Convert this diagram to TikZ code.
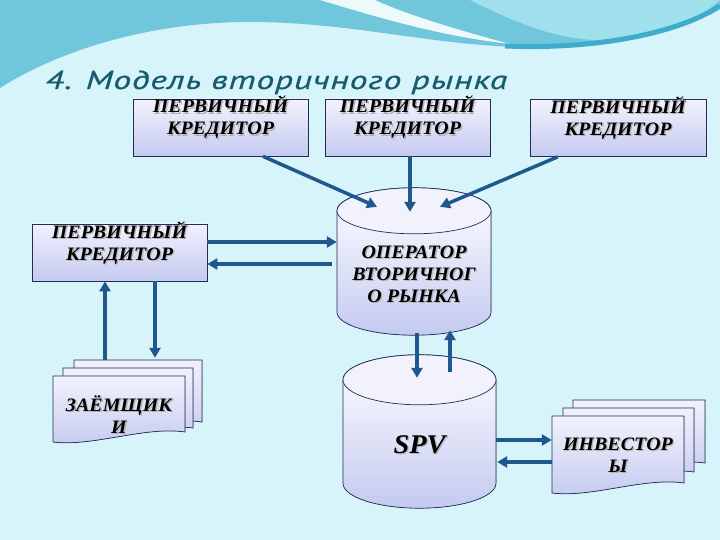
\documentclass[tikz,border=0pt]{standalone}
\usepackage{fontspec}
\setmainfont{Liberation Serif}
\newfontfamily\boxfam[FakeStretch=1.05]{Liberation Serif}
\newfontfamily\titlefont[FakeStretch=1.37,LetterSpace=3,FakeBold=0.6]{PT Sans}
\usetikzlibrary{arrows.meta,backgrounds}

\definecolor{bgc}{RGB}{214,244,249}
\definecolor{wavec}{RGB}{112,198,218}
\definecolor{wavelt}{RGB}{160,224,236}
\definecolor{swoosh}{RGB}{236,250,252}
\definecolor{strokec}{RGB}{62,172,204}
\definecolor{titlec}{RGB}{22,92,110}
\definecolor{arrc}{RGB}{30,88,140}
\definecolor{edgec}{RGB}{35,45,85}
\definecolor{boxtop}{RGB}{242,242,252}
\definecolor{boxbot}{RGB}{196,202,240}

\newcommand\boxfont{\boxfam\bfseries\itshape\fontsize{19}{22}\selectfont}
% text with a grey shadow
\newcommand\shd[1]{\rlap{\kern1.3pt\raisebox{-1.3pt}{\color{black!30}#1}}#1}
% page with a wavy lower edge: x, y, width, height
\newcommand\docpage[4]{%
  \filldraw[page] (#1,#2) -- (#1+#3,#2) -- (#1+#3,#2+#4-10)
    .. controls (#1+0.7*#3,#2+#4-16) and (#1+0.3*#3,#2+#4+5) .. (#1,#2+#4) -- cycle;}
% cylinder around a node: node, x radius, y radius
\newcommand\cylbody[3]{%
  \filldraw[cylfill] ([xshift=-#2pt,yshift=-#3pt]#1.north) -- ([xshift=-#2pt,yshift=#3pt]#1.south)
    arc[start angle=180,end angle=360,x radius=#2pt,y radius=#3pt]
    -- ([xshift=#2pt,yshift=-#3pt]#1.north)
    arc[start angle=0,end angle=180,x radius=#2pt,y radius=#3pt] -- cycle;
  \filldraw[draw=edgec,line width=0.7pt,fill=boxtop] ([yshift=-#3pt]#1.north) ellipse[x radius=#2pt,y radius=#3pt];}

\begin{document}
\begin{tikzpicture}[x=1pt,y=-1pt]
\tikzstyle{kred}=[draw=edgec,line width=0.7pt,top color=boxtop,bottom color=boxbot,align=center,inner sep=0pt,text height=36pt,text depth=21pt,font=\boxfont]
\tikzstyle{cyl}=[align=center,inner sep=0pt,font=\boxfont]
\tikzstyle{page}=[draw=edgec,line width=0.7pt,top color=boxtop,bottom color=boxbot]
\tikzstyle{cylfill}=[draw=edgec,line width=0.7pt,top color=white,bottom color=boxbot]
\tikzstyle{arr}=[draw=arrc,line width=3.5pt,-{Triangle[length=10pt,width=11pt]}]
\useasboundingbox (0,0) rectangle (720,540);

\begin{scope}[on background layer]
\fill[bgc] (0,0) rectangle (720,540);
\fill[wavec] (0,88) .. controls (60,50) and (150,22) .. (250,22) .. controls (350,22) and (430,45) .. (520,47)
  .. controls (600,49) and (680,30) .. (720,8) -- (720,0) -- (0,0) -- cycle;
\fill[wavelt] (470,0) .. controls (520,25) and (560,40) .. (600,40) .. controls (660,38) and (700,18) .. (720,0) -- cycle;
\fill[swoosh] (320,0) .. controls (380,18) and (440,36) .. (510,44) .. controls (450,28) and (400,12) .. (375,0) -- cycle;
\draw[strokec,line width=5pt] (505,46) .. controls (600,50) and (680,32) .. (720,6);
\end{scope}

\node[anchor=base west,inner sep=0pt,text=titlec,font=\titlefont\itshape\fontsize{26}{30}\selectfont] (title) at (45,89) {4. Модель вторичного рынка};

\node[kred,minimum width=175pt] (kr1) at (220.5,127.5) {\shd{ПЕРВИЧНЫЙ}\\\shd{КРЕДИТОР}};
\node[kred,minimum width=165pt] (kr2) at (407.5,127.5) {\shd{ПЕРВИЧНЫЙ}\\\shd{КРЕДИТОР}};
\node[kred,minimum width=176pt] (kr3) at (618,128) {\shd{ПЕРВИЧНЫЙ}\\\shd{КРЕДИТОР}};
\node[kred,minimum width=175pt] (kr4) at (119.5,252.5) {\shd{ПЕРВИЧНЫЙ}\\\shd{КРЕДИТОР}};

\node[cyl,minimum width=154pt,text height=114pt,text depth=33pt] (op) at (414,261.5) {\shd{ОПЕРАТОР}\\\shd{ВТОРИЧНОГ}\\\shd{О РЫНКА}};
\node[cyl,minimum width=153pt,text height=98pt,text depth=55pt,font=\boxfam\bfseries\itshape\fontsize{27}{30}\selectfont] (spv) at (419.5,431.5) {\shd{SPV}};

\node[cyl,minimum width=132pt,text height=57pt,text depth=9pt] (zaem) at (119,409) {\shd{ЗАЁМЩИК}\\\shd{И}};
\node[cyl,minimum width=132pt,text height=56pt,text depth=21pt] (inv) at (618,454.5) {\shd{ИНВЕСТОР}\\\shd{Ы}};

\begin{scope}[on background layer]
\cylbody{op}{77}{23}
\cylbody{spv}{76.5}{25}
\docpage{74}{360}{128}{72}
\docpage{63}{368}{130}{70}
\docpage{53}{376}{132}{66}
\docpage{573}{400}{132}{73}
\docpage{563}{408}{131}{74}
\docpage{552}{416}{132}{77}
\end{scope}

\draw[arr] ([xshift=42.5pt]kr1.south) -- ([xshift=-37pt,yshift=-19pt]op.north);
\draw[arr] ([xshift=2.5pt]kr2.south) -- ([xshift=-4pt,yshift=-24pt]op.north);
\draw[arr] ([xshift=28pt]kr3.south west) -- ([xshift=26pt,yshift=-19pt]op.north);
\draw[arr] ([yshift=10.5pt]kr4.east) -- ([yshift=19.5pt]op.west);
\draw[arr] ([xshift=-5pt,yshift=-2.5pt]op.west) -- ([yshift=-11.5pt]kr4.east);
\draw[arr] ([xshift=-14pt,yshift=16pt]zaem.north) -- ([xshift=-14.5pt]kr4.south);
\draw[arr] ([xshift=35.5pt]kr4.south) -- ([xshift=36pt,yshift=18pt]zaem.north);
\draw[arr] ([xshift=3pt,yshift=2pt]op.south) -- ([xshift=-2.5pt,yshift=-23pt]spv.north);
\draw[arr] ([xshift=30.5pt,yshift=-17pt]spv.north) -- ([xshift=36pt,yshift=5pt]op.south);
\draw[arr] ([yshift=-8.5pt]spv.east) -- ([yshift=14.5pt]inv.west);
\draw[arr] ([yshift=-7.5pt]inv.west) -- ([xshift=1pt,yshift=-30.5pt]spv.east);
\end{tikzpicture}
\end{document}
